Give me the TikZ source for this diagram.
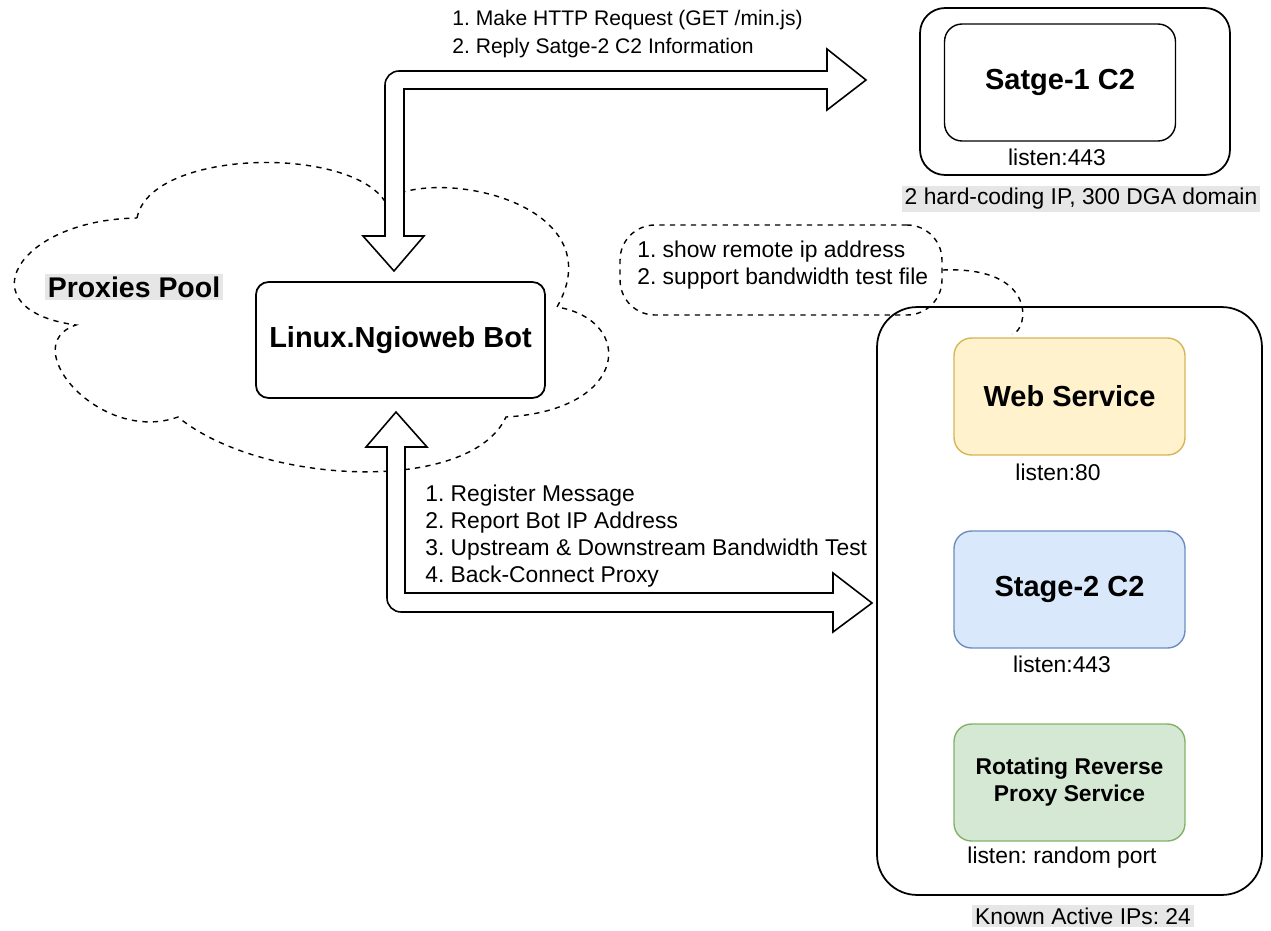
\documentclass[tikz,border=0pt]{standalone}
\usepackage{fontspec}
\setmainfont{Liberation Sans}
\frenchspacing
\definecolor{tagbg}{HTML}{E6E6E6}
\definecolor{webfill}{HTML}{FFF2CC}
\definecolor{webdraw}{HTML}{D6B656}
\definecolor{ctwofill}{HTML}{DAE8FC}
\definecolor{ctwodraw}{HTML}{6C8EBF}
\definecolor{rrpfill}{HTML}{D5E8D4}
\definecolor{rrpdraw}{HTML}{82B366}
\begin{document}
\begin{tikzpicture}[x=0.02cm,y=-0.02cm,
    sketch/.style={draw,line width=1pt,line join=round},
    svc/.style={draw,line width=0.8pt,rounded corners=0.35cm,minimum width=4.62cm,
      minimum height=2.34cm,align=center,font=\fontsize{16.5}{19}\selectfont\bfseries},
    note/.style={font=\fontsize{13}{15.4}\selectfont,align=left,inner sep=0pt},
    tag/.style={font=\fontsize{13}{15}\selectfont,fill=tagbg,inner sep=1.5pt},
    blockarrow/.style={draw,line width=0.9pt,fill=white,line join=miter},
  ]
\useasboundingbox (0,0) rectangle (1271,930);
\draw[dashed,line width=0.8pt] (137,218) .. controls (150,150) and (345,145) .. (384,200)
  .. controls (440,165) and (615,205) .. (557,307)
  .. controls (635,320) and (630,410) .. (506,417)
  .. controls (470,495) and (260,485) .. (178,417)
  .. controls (100,445) and (15,345) .. (76,325)
  .. controls (-35,310) and (15,220) .. cycle;
\node[tag,font=\fontsize{16.2}{18}\selectfont\bfseries] (pool) at (134,287) {Proxies Pool};
\node[sketch,rounded corners=0.25cm,minimum width=5.78cm,minimum height=2.32cm,
  font=\fontsize{16.5}{19}\selectfont\bfseries] (bot) at (400.5,340) {Linux.Ngioweb Bot};
\node[sketch,rounded corners=0.5cm,minimum width=6.2cm,minimum height=3.34cm] (s1box) at (1075,91.5) {};
\node[svc,fill=white] (s1) at (1060,82.5) {Satge-1 C2};
\node[note] (s1port) at (1057,157) {listen:443};
\node[tag] (s1tag) at (1081,199) {2 hard-coding IP, 300 DGA domain};
\node[sketch,rounded corners=0.8cm,minimum width=7.7cm,minimum height=11.76cm] (s2box) at (1069.5,601) {};
\node[tag] (s2tag) at (1083,916) {Known Active IPs: 24};
\node[svc,fill=webfill,draw=webdraw] (web) at (1069.5,396.5) {Web Service};
\node[note] (webport) at (1058,472) {listen:80};
\node[svc,fill=ctwofill,draw=ctwodraw] (c2) at (1069.5,589.5) {Stage-2 C2};
\node[note] (c2port) at (1062,664) {listen:443};
\node[svc,fill=rrpfill,draw=rrpdraw,font=\fontsize{13}{15.4}\selectfont\bfseries] (rrp) at (1069.5,782.5) {Rotating Reverse\\Proxy Service};
\node[note] (rrpport) at (1062,858) {listen: random port};
\node[draw,dashed,line width=0.8pt,rounded corners=0.7cm,minimum width=6.44cm,minimum height=1.8cm] (bubble) at (781,270) {};
\node[note,anchor=west] (bubtext) at (637,265) {1. show remote ip address\\2. support bandwidth test file};
\coordinate (hook) at (1012,334);
\draw[dashed,line width=0.8pt] (bubble.east) .. controls (1040,266) and (1028,332) .. (hook);
\node[note,anchor=west,font=\fontsize{12}{16}\selectfont] (reqtext) at (452,34) {1. Make HTTP Request (GET /min.js)\\2. Reply Satge-2 C2 Information};
\draw[blockarrow,rounded corners=0pt] (404,236) -- (424,236) -- (394,271) -- (363,236) -- (385,236)
  [rounded corners=8pt] -- (385,71) [rounded corners=0pt] -- (827,71) -- (827,49) -- (866,80)
  -- (827,110) -- (827,89) -- (404,89) -- cycle;
\node[note,anchor=west] (regtext) at (425,536) {1. Register Message\\2. Report Bot IP Address\\3. Upstream \& Downstream Bandwidth Test\\4. Back-Connect Proxy};
\draw[blockarrow,rounded corners=0pt] (405,447) -- (427,447) -- (396,412) -- (366,447) -- (387,447)
  [rounded corners=8pt] -- (387,612) [rounded corners=0pt] -- (833,612) -- (833,632) -- (872,603)
  -- (833,573) -- (833,593) -- (405,593) -- cycle;
\end{tikzpicture}
\end{document}
